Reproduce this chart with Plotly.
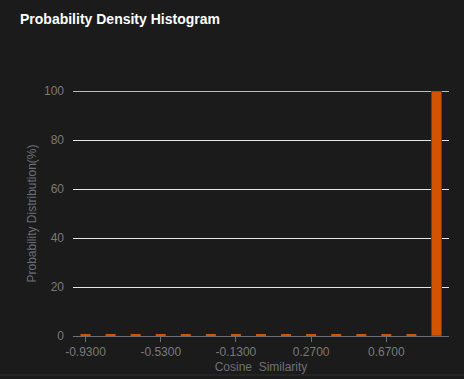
import plotly.graph_objects as go

categories = ["-0.9300", "-0.7967", "-0.6633", "-0.5300", "-0.3967", "-0.2633",
              "-0.1300", "0.0033", "0.1367", "0.2700", "0.4033", "0.5367",
              "0.6700", "0.8033", "0.9367"]
values = [0.8, 0.8, 0.8, 0.8, 0.8, 0.8, 0.8, 0.8, 0.8, 0.8, 0.8, 0.8, 0.8, 0.8, 100]
tick_labels = ["-0.9300", "-0.5300", "-0.1300", "0.2700", "0.6700"]
y_ticks = [0, 20, 40, 60, 80, 100]

FONT = "Liberation Sans, Arial, sans-serif"
BG = "#1b1b1b"

border_widths = [1 if v > 5 else 0 for v in values]

fig = go.Figure(go.Bar(
    x=categories, y=values,
    width=0.4,
    marker=dict(color="#d35400", line=dict(color="#4a4a4a", width=border_widths)),
    hoverinfo="x+y",
))

fig.update_layout(
    width=464, height=379,
    margin=dict(l=73, r=15, t=91, b=43, autoexpand=False),
    paper_bgcolor=BG, plot_bgcolor=BG,
    showlegend=False,
    title=dict(text="<b>Probability Density Histogram</b>", x=20/464, xanchor="left",
               y=1-19/379, yanchor="middle",
               font=dict(family=FONT, size=14, color="#ffffff")),
    font=dict(family=FONT, size=12, color="#7a7a7a"),
)

fig.update_xaxes(
    type="category", automargin=False,
    tickmode="array", tickvals=tick_labels, ticktext=tick_labels,
    ticks="outside", ticklen=5, tickcolor="#6e7079", tickwidth=1,
    showline=True, linecolor="#6e7079", linewidth=1,
    showgrid=False, zeroline=False,
    tickfont=dict(family=FONT, size=12, color="#7a7a7a"),
    title=dict(text="Cosine  Similarity", standoff=4,
               font=dict(family=FONT, size=12, color="#6e7079")),
)

fig.update_yaxes(
    range=[0, 100], tickvals=y_ticks, automargin=False,
    showgrid=True, gridcolor="#e6e6e6", gridwidth=1,
    zeroline=False, showline=False, ticks="",
    ticklabelstandoff=8,
    tickfont=dict(family=FONT, size=12, color="#7a7a7a"),
    title=dict(text="Probability Distribution(%)", standoff=4,
               font=dict(family=FONT, size=12, color="#6e7079")),
)

fig.add_shape(type="line", xref="paper", yref="y", x0=0, x1=1, y0=99.9, y1=99.9,
              line=dict(color="#f0f0f0", width=1), layer="below")
fig.add_shape(type="line", xref="paper", yref="paper",
              x0=-73/376, x1=(464-73)/376, y0=-39/245, y1=-39/245,
              line=dict(color="#2e2e2e", width=1))

fig.write_html("out.html")
